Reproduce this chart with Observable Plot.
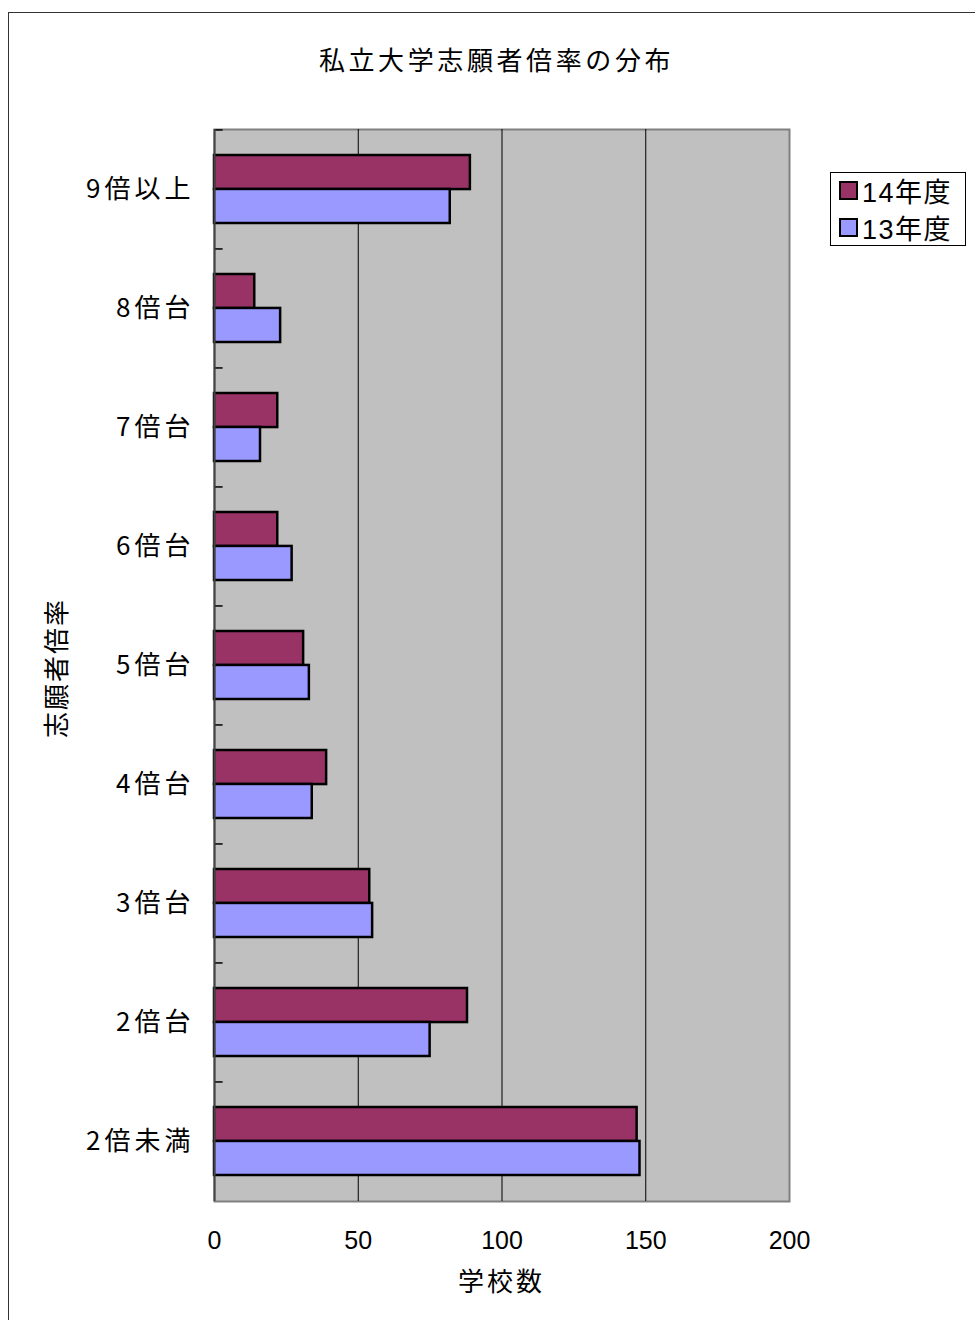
<!DOCTYPE html>
<html>
<head>
<meta charset="utf-8">
<script src="https://cdn.jsdelivr.net/npm/d3@7"></script>
<script src="https://cdn.jsdelivr.net/npm/@observablehq/plot@0.6"></script>
<style>
  html, body { margin: 0; padding: 0; background: #fff; }
  body { width: 975px; height: 1320px; overflow: hidden; position: relative; font-family: "Noto Sans CJK JP", sans-serif; }
  #outer { position: absolute; left: 8px; top: 12px; width: 2000px; height: 2000px; border: 1.5px solid #333; box-sizing: border-box; }
  #chart { position: absolute; left: 0; top: 0; }
  .txt { position: absolute; color: #000; white-space: nowrap; }
  #title { left: 0; width: 993px; top: 39px; text-align: center; font-size: 26px; letter-spacing: 3.6px; line-height: 40px; }
  #xlabel { left: 214px; width: 575px; top: 1260px; text-align: center; font-size: 26px; letter-spacing: 3px; line-height: 40px; }
  #ylabel { left: 55px; top: 668px; font-size: 26px; letter-spacing: 2px; line-height: 30px; transform: translate(-50%, -50%) rotate(-90deg); }
  #legend { position: absolute; left: 830px; top: 172px; width: 136px; height: 74px; border: 1px solid #000; box-sizing: border-box; background: #fff; }
  .row { position: absolute; left: 8px; height: 36px; display: flex; align-items: center; font-family: "Liberation Sans", "Noto Sans CJK JP", sans-serif; font-size: 27px; letter-spacing: 1.5px; }
  .sw { width: 15px; height: 15px; border: 2px solid #000; margin-right: 4px; }
  g[aria-label="y-axis tick label"] text { font-family: "Noto Sans CJK JP", sans-serif; font-size: 26px; letter-spacing: 4px; }
</style>
</head>
<body>
<div id="outer"></div>
<div id="chart"></div>
<div id="title" class="txt"></div>
<div id="xlabel" class="txt"></div>
<div id="ylabel" class="txt"></div>
<div id="legend"></div>
<script>
// ---- data ----
const title = "私立大学志願者倍率の分布";
const xTitle = "学校数";
const yTitle = "志願者倍率";
const categories = ["9倍以上", "8倍台", "7倍台", "6倍台", "5倍台", "4倍台", "3倍台", "2倍台", "2倍未満"];
const seriesNames = ["14年度", "13年度"];
const values14 = [89, 14, 22, 22, 31, 39, 54, 88, 147];
const values13 = [82, 23, 16, 27, 33, 34, 55, 75, 148];
const xTicks = [0, 50, 100, 150, 200];
const gridValues = [50, 100, 150];
const colors = ["#993366", "#9999FF"];

// ---- layout ----
const W = 975, H = 1320, mL = 214, mR = 186, mT = 129, mB = 119;
const pad = 0.43;
const step = (H - mT - mB) / categories.length;
const bandwidth = step * (1 - pad);

const data14 = categories.map((c, i) => ({category: c, series: seriesNames[0], value: values14[i]}));
const data13 = categories.map((c, i) => ({category: c, series: seriesNames[1], value: values13[i]}));

const chart = Plot.plot({
  width: W,
  height: H,
  marginLeft: mL,
  marginRight: mR,
  marginTop: mT,
  marginBottom: mB,
  style: {fontSize: "25px", fontFamily: "'Liberation Sans', 'Noto Sans CJK JP', sans-serif", color: "#000", background: "transparent", overflow: "visible"},
  x: {domain: [0, 200], ticks: xTicks, tickSize: 0, tickPadding: 30, label: null},
  y: {domain: categories, paddingInner: pad, paddingOuter: pad / 2, tickSize: 0, tickPadding: 20, label: null},
  color: {domain: seriesNames, range: colors},
  marks: [
    Plot.frame({fill: "#C0C0C0", stroke: "#808080", strokeWidth: 2}),
    Plot.ruleX(gridValues, {stroke: "#000", strokeWidth: 1}),
    Plot.ruleY(categories, {y: d => d, x1: 0, x2: 3, dy: -step / 2, stroke: "#000", strokeWidth: 1.5}),
    Plot.barX(data14, {y: "category", x: "value", fill: "series", stroke: "#000", strokeWidth: 2.5, insetBottom: bandwidth / 2}),
    Plot.barX(data13, {y: "category", x: "value", fill: "series", stroke: "#000", strokeWidth: 2.5, insetTop: bandwidth / 2}),
    Plot.ruleX([0], {stroke: "#444", strokeWidth: 2})
  ]
});
document.getElementById("chart").appendChild(chart);

document.getElementById("title").textContent = title;
document.getElementById("xlabel").textContent = xTitle;
document.getElementById("ylabel").textContent = yTitle;

const legend = document.getElementById("legend");
seriesNames.forEach((s, i) => {
  const row = document.createElement("div");
  row.className = "row";
  row.style.top = (-1 + i * 37) + "px";
  const sw = document.createElement("div");
  sw.className = "sw";
  sw.style.background = colors[i];
  const t = document.createElement("span");
  t.textContent = s;
  row.appendChild(sw);
  row.appendChild(t);
  legend.appendChild(row);
});
</script>
</body>
</html>
